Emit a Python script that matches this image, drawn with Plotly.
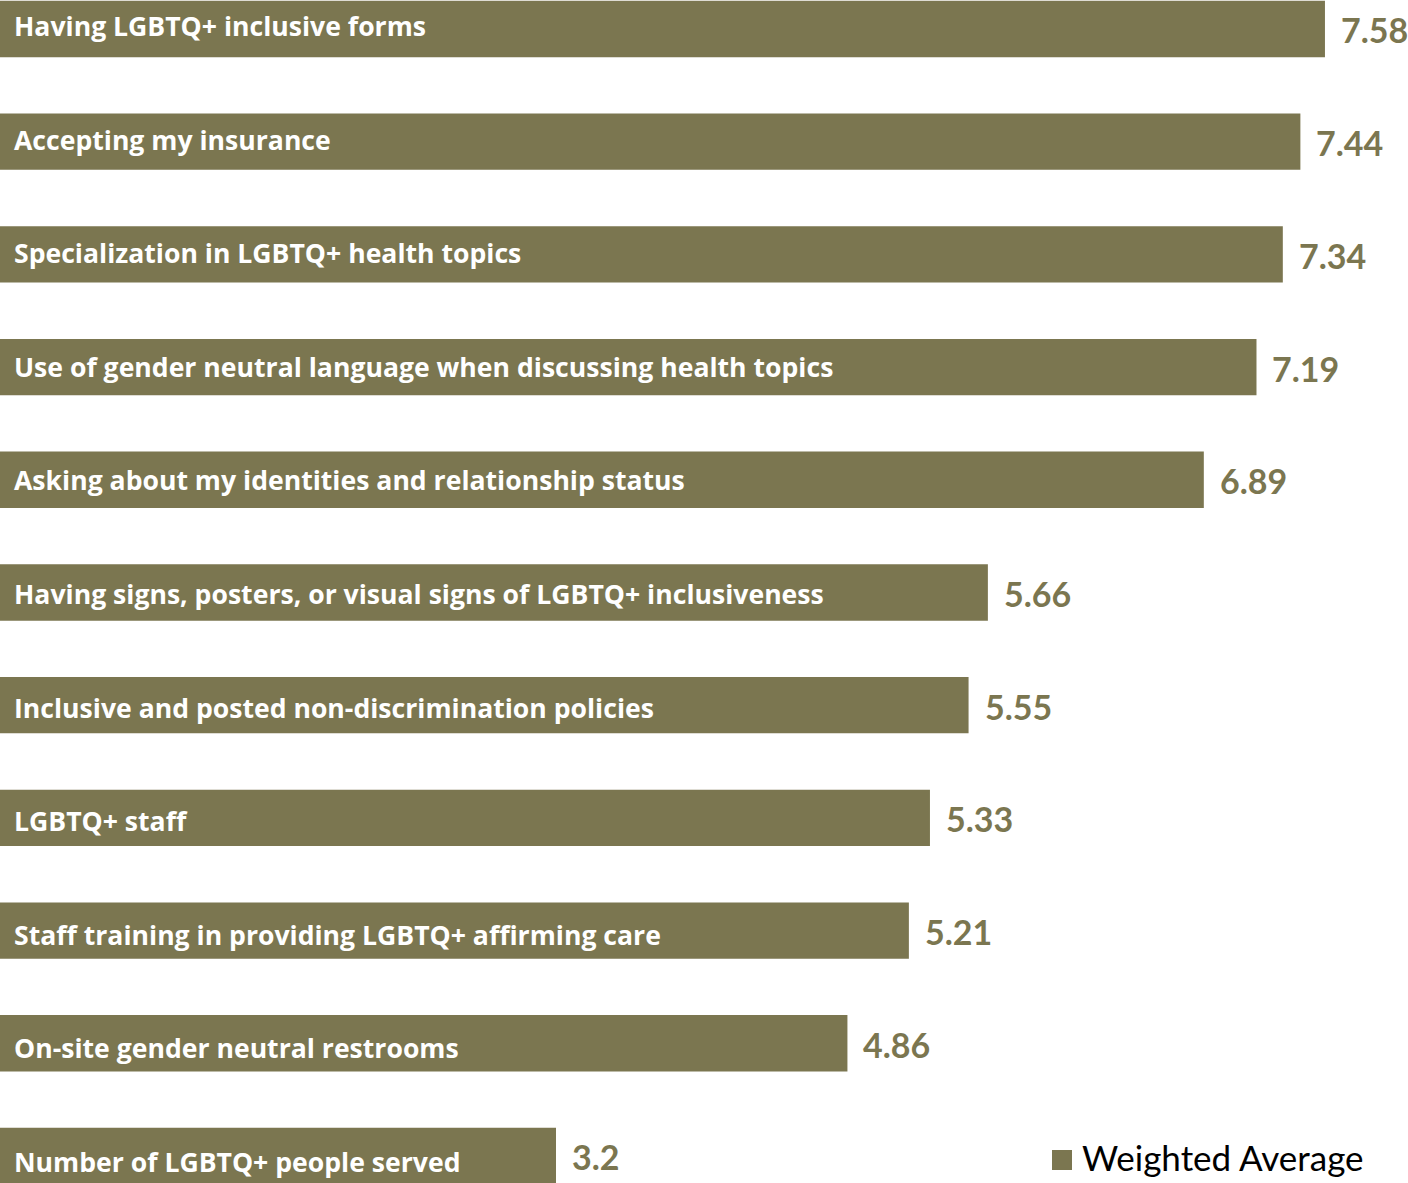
import plotly.graph_objects as go

# Survey items, ranked by weighted average importance score
categories = [
    "Having LGBTQ+ inclusive forms",
    "Accepting my insurance",
    "Specialization in LGBTQ+ health topics",
    "Use of gender neutral language when discussing health topics",
    "Asking about my identities and relationship status",
    "Having signs, posters, or visual signs of LGBTQ+ inclusiveness",
    "Inclusive and posted non-discrimination policies",
    "LGBTQ+ staff",
    "Staff training in providing LGBTQ+ affirming care",
    "On-site gender neutral restrooms",
    "Number of LGBTQ+ people served",
]
weighted_average = [7.58, 7.44, 7.34, 7.19, 6.89, 5.66, 5.55, 5.33, 5.21, 4.86, 3.2]
value_labels = ["7.58", "7.44", "7.34", "7.19", "6.89", "5.66", "5.55", "5.33", "5.21", "4.86", "3.2"]
series_name = "Weighted Average"

BAR_COLOR = "#7B7650"

fig = go.Figure()
fig.add_trace(go.Bar(
    x=weighted_average,
    y=categories,
    orientation="h",
    width=0.5,
    marker=dict(color=BAR_COLOR, line=dict(width=0)),
    name=series_name,
    showlegend=False,
    hoverinfo="x+y",
))

annotations = []
for i, (cat, val, lab) in enumerate(zip(categories, weighted_average, value_labels)):
    # category name inside the bar; sits a touch lower in the lower bars
    annotations.append(dict(
        xref="paper", yref="y", x=0, y=cat, xanchor="left", yanchor="middle",
        xshift=12, yshift=3 - 0.9 * i, text=cat, showarrow=False,
        font=dict(family="Open Sans", size=26.6, color="white", weight="bold"),
    ))
    # value just beyond the bar end
    annotations.append(dict(
        xref="x", yref="y", x=val, y=cat, xanchor="left", yanchor="middle",
        xshift=14, yshift=-1, text=lab, showarrow=False,
        font=dict(family="Lato", size=34, color=BAR_COLOR, weight="bold"),
    ))

# legend key
annotations.append(dict(
    xref="paper", yref="paper", x=1, y=0, xanchor="right", yanchor="bottom",
    xshift=-42, yshift=3, text=series_name, showarrow=False,
    font=dict(family="Lato", size=35, color="black"),
))

fig.update_layout(
    width=1408, height=1183,
    margin=dict(l=0, r=0, t=0, b=0),
    paper_bgcolor="white", plot_bgcolor="white",
    xaxis=dict(range=[0.033, 8.053], visible=False, fixedrange=True),
    yaxis=dict(
        categoryorder="array", categoryarray=categories,
        range=[10.24, -0.257], visible=False, fixedrange=True,
    ),
    annotations=annotations,
    shapes=[dict(
        type="rect", xref="paper", yref="paper",
        x0=1052 / 1408, x1=1072 / 1408,
        y0=1 - 1170 / 1183, y1=1 - 1150 / 1183,
        fillcolor=BAR_COLOR, line=dict(width=0),
    )],
    showlegend=False,
)

fig.write_html("out.html")
